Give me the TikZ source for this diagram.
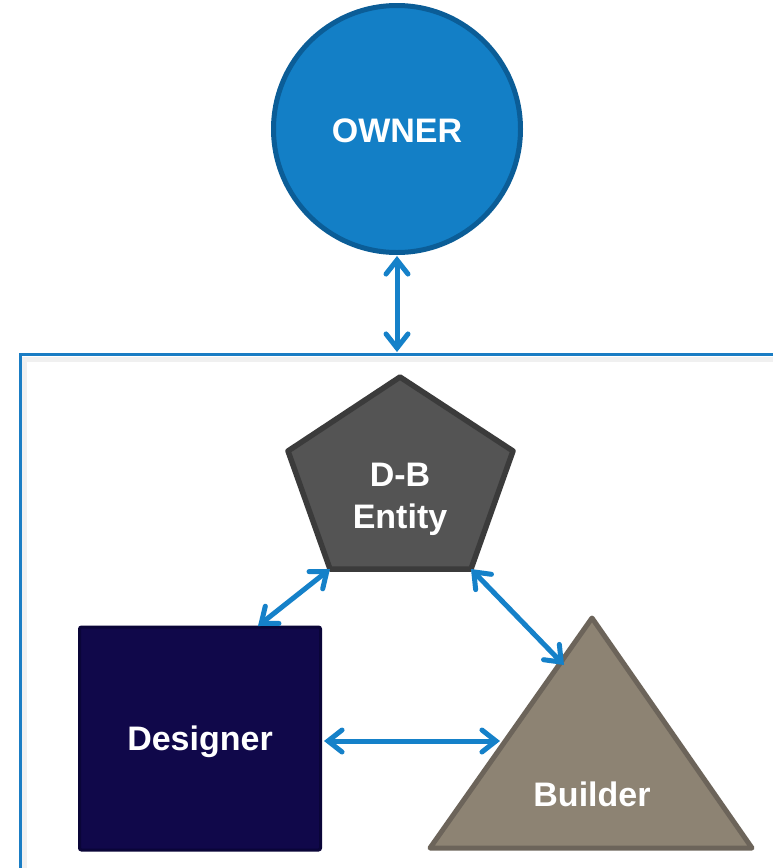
\documentclass[tikz,border=0pt]{standalone}
\usepackage{fontspec}
\setmainfont{Liberation Sans}
\usetikzlibrary{arrows.meta}
\definecolor{ownerfill}{HTML}{137FC6}
\definecolor{ownerline}{HTML}{0B5D97}
\definecolor{linkblue}{HTML}{1581C9}
\definecolor{framblue}{HTML}{1A7DC4}
\definecolor{entfill}{HTML}{545454}
\definecolor{entline}{HTML}{3B3B3B}
\definecolor{desfill}{HTML}{10084A}
\definecolor{desline}{HTML}{0A0538}
\definecolor{bldfill}{HTML}{8D8373}
\definecolor{bldline}{HTML}{6C645A}
\tikzset{
  label/.style={text=white, font=\fontsize{34}{42}\selectfont\bfseries, align=center},
  link/.style={draw=linkblue, line width=5pt, line cap=round, line join=round,
    {Straight Barb[length=14pt, width=22pt, line cap=round]}-{Straight Barb[length=14pt, width=22pt, line cap=round]}},
}
\begin{document}
\begin{tikzpicture}[x=1pt, y=-1pt]
\useasboundingbox (0,0) rectangle (772,868);
\fill[white] (0,0) rectangle (772,868);

% enclosing team frame, open to the right and bottom
\draw[gray!12, line width=5pt] (24.5,880) -- (24.5,359) -- (790,359);
\draw[framblue, line width=3pt] (20,880) -- (20,354.5) -- (790,354.5);
\coordinate (frametop) at (397,352);

% owner
\node[circle, minimum size=247pt, inner sep=0pt, fill=ownerfill, draw=ownerline, line width=5pt]
  (owner) at (397,129) {};
\node[label] (ownertxt) at (397,131) {OWNER};

% design-build entity
\coordinate (pt) at (400,377);
\coordinate (pl) at (288,451);
\coordinate (pr) at (513,451);
\coordinate (pbl) at (330,569);
\coordinate (pbr) at (471,569);
\draw[fill=entfill, draw=entline, line width=5.5pt, line join=round]
  (pt) -- (pr) -- (pbr) -- (pbl) -- (pl) -- cycle;
\node[label] (entity) at (400,499) {D-B\\Entity};

% designer
\node[rectangle, rounded corners=2pt, minimum width=241pt, minimum height=223pt,
  fill=desfill, draw=desline, line width=3pt] (designer) at (200,738.5) {};
\node[label] (destxt) at (200,742) {Designer};

% builder
\coordinate (ta) at (592,618);
\coordinate (tl) at (430,848);
\coordinate (tr) at (752,848);
\draw[fill=bldfill, draw=bldline, line width=5pt, line join=round]
  (ta) -- (tr) -- (tl) -- cycle;
\node[label] (bldtxt) at (592,794) {Builder};

% contact points for the links
\coordinate (destop) at (258,626);
\coordinate (bldtop) at (564,665);
\coordinate (bldside) at (500,741);
\coordinate (desside) at (324,741);

% links
\draw[link] ([yshift=-1pt]owner.south) -- (frametop);
\draw[link] (pbl) -- (destop);
\draw[link] (pbr) -- (bldtop);
\draw[link] (desside) -- (bldside);
\end{tikzpicture}
\end{document}
